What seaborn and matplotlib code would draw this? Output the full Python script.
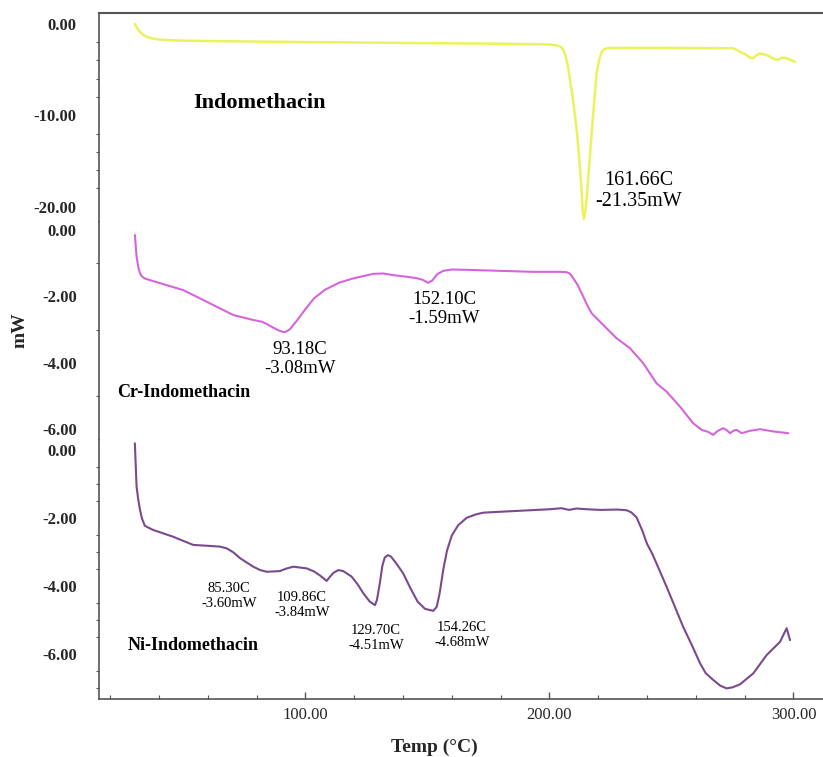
import numpy as np
import pandas as pd
import matplotlib
matplotlib.use("Agg")
import matplotlib.pyplot as plt
from matplotlib.ticker import MultipleLocator, FixedLocator, FixedFormatter
import seaborn as sns

# ---------------- data ----------------
# Indomethacin (top)
indo_T = [30.1, 30.8, 31.5, 32.5, 33.5, 35.0, 37.0, 40.0, 45.0, 50.0, 60.0, 80.0, 100.0, 120.0,
          140.0, 160.0, 180.0, 195.0, 200.0, 202.5, 204.3, 205.5, 206.5, 207.6, 209.5, 211.3,
          213.0, 213.6, 214.1, 214.7, 215.2, 217.3, 219.3, 220.5, 221.4, 222.3, 223.4, 225.0,
          240.0, 260.0, 275.2, 276.8, 278.8, 280.8, 282.2, 283.4, 284.8, 286.3, 289.0, 291.5,
          293.6, 295.0, 296.5, 298.5, 300.6]
indo_mW = [0.0, -0.35, -0.65, -0.95, -1.2, -1.42, -1.58, -1.70, -1.78, -1.83, -1.87, -1.93,
           -1.98, -2.03, -2.08, -2.12, -2.17, -2.22, -2.26, -2.32, -2.45, -2.75, -3.4, -4.7,
           -8.0, -11.9, -17.5, -20.4, -21.35, -20.5, -19.3, -11.9, -5.4, -3.8, -3.05, -2.8,
           -2.68, -2.63, -2.62, -2.64, -2.66, -2.85, -3.15, -3.4, -3.7, -3.76, -3.45, -3.21,
           -3.4, -3.76, -3.94, -3.72, -3.69, -3.9, -4.13]

# Cr-Indomethacin (middle)
cr_T = [30.1, 30.8, 31.5, 32.2, 33.0, 34.2, 36.3, 43.1, 49.9, 56.8, 63.6, 70.4, 78.6, 82.0,
        84.1, 86.5, 89.5, 91.5, 93.5, 95.0, 96.5, 99.5, 103.5, 108.0, 114.0, 120.0, 127.8,
        132.0, 136.0, 142.8, 145.5, 148.0, 150.3, 152.0, 154.0, 156.5, 160.0, 166.1, 179.7,
        193.4, 204.0, 207.0, 208.5, 210.0, 211.5, 213.5, 215.5, 217.3, 220.7, 227.5, 233.0,
        238.4, 243.9, 248.0, 253.5, 258.9, 262.4, 265.0, 267.1, 269.0, 271.2, 272.5, 274.0,
        275.5, 276.7, 278.8, 282.0, 286.3, 292.0, 297.9]
cr_mW = [-0.15, -0.80, -1.12, -1.30, -1.40, -1.46, -1.51, -1.66, -1.81, -2.06, -2.31, -2.56,
         -2.71, -2.76, -2.83, -2.93, -3.04, -3.08, -3.00, -2.86, -2.73, -2.43, -2.06, -1.80,
         -1.58, -1.45, -1.32, -1.31, -1.36, -1.42, -1.45, -1.50, -1.59, -1.52, -1.33, -1.23,
         -1.19, -1.20, -1.23, -1.26, -1.26, -1.27, -1.32, -1.48, -1.65, -1.95, -2.27, -2.51,
         -2.76, -3.26, -3.56, -4.01, -4.62, -4.87, -5.32, -5.82, -6.02, -6.08, -6.17, -6.05,
         -5.97, -6.02, -6.12, -6.04, -6.02, -6.12, -6.05, -6.00, -6.07, -6.12]

# Ni-Indomethacin (bottom)
ni_T = [30.1, 30.8, 31.5, 32.2, 33.0, 34.2, 37.6, 45.8, 54.0, 60.9, 65.0, 67.7, 70.5, 73.2,
        76.0, 78.6, 81.5, 84.1, 89.5, 92.0, 95.0, 100.5, 103.5, 106.0, 108.7, 110.0, 111.5,
        113.5, 115.5, 118.9, 121.5, 123.7, 126.4, 128.5, 129.3, 130.5, 131.5, 132.5, 133.8,
        135.0, 137.0, 140.0, 143.0, 146.0, 149.0, 152.4, 153.8, 155.0, 156.5, 158.0, 160.0,
        162.6, 166.1, 170.0, 173.0, 186.6, 200.2, 205.0, 208.0, 211.0, 215.2, 220.7, 228.0,
        231.6, 233.5, 235.7, 238.0, 240.0, 242.2, 248.0, 254.8, 258.5, 261.7, 264.0, 267.1,
        270.0, 272.6, 275.0, 278.1, 283.5, 289.0, 294.5, 297.2, 298.6]
ni_mW = [0.21, -1.07, -1.45, -1.75, -2.00, -2.22, -2.34, -2.54, -2.78, -2.81, -2.83, -2.88,
         -3.00, -3.17, -3.30, -3.42, -3.52, -3.57, -3.55, -3.48, -3.42, -3.47, -3.56, -3.68,
         -3.84, -3.72, -3.60, -3.52, -3.55, -3.71, -3.95, -4.20, -4.45, -4.55, -4.40, -3.90,
         -3.40, -3.15, -3.08, -3.12, -3.30, -3.61, -4.05, -4.45, -4.66, -4.72, -4.60, -4.20,
         -3.50, -2.95, -2.50, -2.20, -1.98, -1.88, -1.83, -1.78, -1.73, -1.70, -1.75, -1.71,
         -1.73, -1.75, -1.74, -1.76, -1.82, -1.97, -2.35, -2.75, -3.05, -4.01, -5.19, -5.75,
         -6.26, -6.55, -6.75, -6.92, -7.00, -6.97, -6.88, -6.56, -6.02, -5.63, -5.23, -5.58]

x_ticks = [100, 200, 300]
x_ticklabels = ["100.00", "200.00", "300.00"]
top_ticks = [0, -10, -20]
top_ticklabels = ["0.00", "-10.00", "-20.00"]
mid_ticks = [0, -2, -4, -6]
mid_ticklabels = ["0.00", "-2.00", "-4.00", "-6.00"]
bot_ticks = [0, -2, -4, -6]
bot_ticklabels = ["0.00", "-2.00", "-4.00", "-6.00"]

# ---------------- figure ----------------
sns.set_theme(style="white")
plt.rcParams["font.family"] = ["Liberation Serif", "DejaVu Serif"]
plt.rcParams["axes.unicode_minus"] = False

W, H = 823, 757
fig = plt.figure(figsize=(W / 100, H / 100), dpi=100)

def frac_box(y_top_px, y_bot_px):
    left = 99 / W
    return [left, 1 - y_bot_px / H, 1 - left, (y_bot_px - y_top_px) / H]

ax_top = fig.add_axes(frac_box(13, 222))
ax_mid = fig.add_axes(frac_box(222, 440))
ax_bot = fig.add_axes(frac_box(440, 699))

xlim = (15.4, 312.1)
spine_col = "#555555"

df_top = pd.DataFrame({"T": indo_T, "mW": indo_mW})
df_mid = pd.DataFrame({"T": cr_T, "mW": cr_mW})
df_bot = pd.DataFrame({"T": ni_T, "mW": ni_mW})

sns.lineplot(data=df_top, x="T", y="mW", ax=ax_top, color="#eaf25c", lw=1.8, estimator=None)
sns.lineplot(data=df_mid, x="T", y="mW", ax=ax_mid, color="#d465dc", lw=1.5, estimator=None)
sns.lineplot(data=df_bot, x="T", y="mW", ax=ax_bot, color="#7b4a8e", lw=1.5, estimator=None)

ax_top.set_ylim(-21.69, 1.20)
ax_mid.set_ylim(-6.325, 0.241)
ax_bot.set_ylim(-7.312, 0.306)

for ax in (ax_top, ax_mid, ax_bot):
    ax.set_xlim(*xlim)
    ax.set_xlabel("")
    ax.set_ylabel("")
    ax.set_facecolor("white")
    for s in ax.spines.values():
        s.set_visible(False)
    ax.spines["left"].set_visible(True)
    ax.spines["left"].set_color(spine_col)
    ax.spines["left"].set_linewidth(1.2)
    ax.tick_params(axis="y", which="major", direction="out", length=4, width=1,
                   color=spine_col, pad=12, labelsize=12)
    ax.tick_params(axis="y", which="minor", direction="out", length=2.5, width=0.8,
                   color=spine_col, left=True)

ax_top.spines["top"].set_visible(True)
ax_top.spines["top"].set_color(spine_col)
ax_top.spines["top"].set_linewidth(1.5)
ax_bot.spines["bottom"].set_visible(True)
ax_bot.spines["bottom"].set_color(spine_col)
ax_bot.spines["bottom"].set_linewidth(1.2)

# y ticks
ax_top.yaxis.set_major_locator(FixedLocator(top_ticks))
ax_top.yaxis.set_major_formatter(FixedFormatter(top_ticklabels))
ax_top.yaxis.set_minor_locator(MultipleLocator(2))
ax_mid.yaxis.set_major_locator(FixedLocator(mid_ticks))
ax_mid.yaxis.set_major_formatter(FixedFormatter(mid_ticklabels))
ax_mid.yaxis.set_minor_locator(MultipleLocator(1))
ax_bot.yaxis.set_major_locator(FixedLocator(bot_ticks))
ax_bot.yaxis.set_major_formatter(FixedFormatter(bot_ticklabels))
ax_bot.yaxis.set_minor_locator(MultipleLocator(0.5))

for ax in (ax_top, ax_mid, ax_bot):
    for lab in ax.get_yticklabels():
        lab.set_fontweight("bold")
        lab.set_fontsize(12)

# x ticks
for ax in (ax_top, ax_mid):
    ax.tick_params(axis="x", which="both", bottom=False, top=False, labelbottom=False)
ax_bot.xaxis.set_major_locator(FixedLocator(x_ticks))
ax_bot.xaxis.set_major_formatter(FixedFormatter(x_ticklabels))
ax_bot.xaxis.set_minor_locator(MultipleLocator(20))
ax_bot.tick_params(axis="x", which="major", direction="in", length=5, width=1,
                   color=spine_col, bottom=True, pad=6, labelsize=12)
ax_bot.tick_params(axis="x", which="minor", direction="in", length=3, width=0.8,
                   color=spine_col, bottom=True)

# ---------------- text ----------------
def ptext(x_px, y_px, s, size, weight="normal", ha="center"):
    fig.text(x_px / W, 1 - y_px / H, s, fontsize=size, fontweight=weight,
             ha=ha, va="center", color="black", linespacing=1.15)

ptext(259, 103, "Indomethacin", 16, "bold")
ptext(639, 191, "161.66C\n-21.35mW", 14.5)
ptext(300, 359, "93.18C\n-3.08mW", 13.5)
ptext(444, 309, "152.10C\n-1.59mW", 13.5)
ptext(184, 393, "Cr-Indomethacin", 13, "bold")
ptext(193, 646, "Ni-Indomethacin", 13, "bold")
ptext(229, 596, "85.30C\n-3.60mW", 10.5)
ptext(302, 605, "109.86C\n-3.84mW", 10.5)
ptext(376, 638, "129.70C\n-4.51mW", 10.5)
ptext(462, 635, "154.26C\n-4.68mW", 10.5)

fig.text(20 / W, 1 - 330 / H, "mW", fontsize=14, fontweight="bold", rotation=90,
         ha="center", va="center")
fig.text(434 / W, 1 - 747 / H, "Temp (°C)", fontsize=14, fontweight="bold",
         ha="center", va="center")

fig.savefig("out.png", dpi=100, facecolor="white")
